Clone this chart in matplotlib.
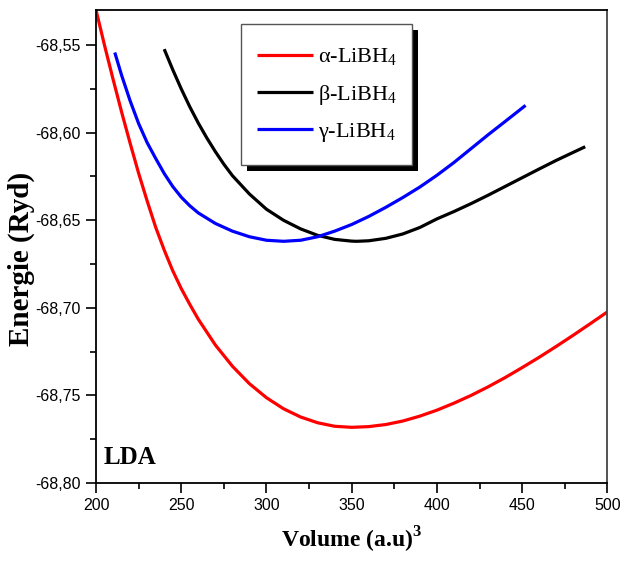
import numpy as np
import matplotlib
matplotlib.use("Agg")
import matplotlib.pyplot as plt
from matplotlib.ticker import MultipleLocator, FuncFormatter
from matplotlib.patches import Rectangle

plt.rcParams['font.family'] = 'Liberation Sans'
plt.rcParams['mathtext.fontset'] = 'custom'
plt.rcParams['mathtext.rm'] = 'Liberation Serif'
plt.rcParams['mathtext.bf'] = 'Liberation Serif:bold'

# energy vs volume, LDA
vol_alpha = [200, 205, 210, 215, 220, 225, 230, 235, 240, 245, 250, 255, 260, 270, 280,
             290, 300, 310, 320, 330, 340, 350, 360, 370, 380, 390, 400, 410, 420, 430,
             440, 450, 460, 470, 480, 490, 500]
e_alpha = [-68.5300, -68.5502, -68.5695, -68.5882, -68.6060, -68.6232, -68.6390, -68.6540,
           -68.6670, -68.6788, -68.6890, -68.6980, -68.7065, -68.7212, -68.7333, -68.7433,
           -68.7513, -68.7576, -68.7623, -68.7656, -68.7676, -68.7682, -68.7678, -68.7666,
           -68.7646, -68.7618, -68.7584, -68.7544, -68.7500, -68.7451, -68.7398, -68.7341,
           -68.7282, -68.7220, -68.7156, -68.7090, -68.7023]

vol_beta = [240, 245, 250, 255, 260, 265, 270, 275, 280, 290, 300, 310, 320, 330, 340,
            350, 353, 360, 370, 380, 390, 400, 410, 420, 430, 440, 450, 460, 470, 480, 487]
e_beta = [-68.5523, -68.5640, -68.5750, -68.5852, -68.5945, -68.6030, -68.6108, -68.6180,
          -68.6245, -68.6350, -68.6437, -68.6500, -68.6549, -68.6586, -68.6609, -68.6619,
          -68.6620, -68.6617, -68.6603, -68.6578, -68.6541, -68.6492, -68.6450, -68.6405,
          -68.6357, -68.6307, -68.6257, -68.6207, -68.6158, -68.6112, -68.6080]

vol_gamma = [211, 215, 220, 225, 230, 235, 240, 245, 250, 255, 260, 270, 280, 290, 300,
             310, 320, 330, 340, 350, 360, 370, 380, 390, 400, 410, 420, 430, 440, 452]
e_gamma = [-68.5542, -68.5672, -68.5818, -68.5948, -68.6057, -68.6147, -68.6233, -68.6307,
           -68.6368, -68.6417, -68.6458, -68.6518, -68.6562, -68.6594, -68.6614, -68.6620,
           -68.6614, -68.6594, -68.6562, -68.6524, -68.6478, -68.6426, -68.6370, -68.6310,
           -68.6243, -68.6170, -68.6091, -68.6012, -68.5936, -68.5844]

labels = ['α-LiBH$_4$', 'β-LiBH$_4$', 'γ-LiBH$_4$']
colors = ['#ff0000', '#000000', '#0000ff']

fig = plt.figure(figsize=(6.36, 5.61), dpi=100)
ax = fig.add_axes([0.151, 0.139, 0.804, 0.843])

for v, e, lab, c in zip([vol_alpha, vol_beta, vol_gamma], [e_alpha, e_beta, e_gamma], labels, colors):
    ax.plot(v, e, color=c, lw=2.3, label=lab, solid_capstyle='butt', solid_joinstyle='round')

ax.set_xlim(200, 500)
ax.set_ylim(-68.80, -68.53)
ax.xaxis.set_major_locator(MultipleLocator(50))
ax.xaxis.set_minor_locator(MultipleLocator(25))
ax.yaxis.set_major_locator(MultipleLocator(0.05))
ax.yaxis.set_minor_locator(MultipleLocator(0.025))
ax.yaxis.set_major_formatter(FuncFormatter(lambda v, p: ('%.2f' % v).replace('.', ',')))
ax.tick_params(which='major', direction='out', length=7, width=1.2, labelsize=11.5, pad=4)
ax.tick_params(which='minor', direction='out', length=4, width=1.2)
ax.tick_params(top=False, right=False, which='both')
for s in ['left', 'bottom', 'top', 'right']:
    ax.spines[s].set_linewidth(1.3)
ax.spines['right'].set_color('#444444')

ax.set_xlabel('Volume (a.u)$^\\mathbf{3}$', family='Liberation Serif', fontweight='bold',
              fontsize=17)
ax.xaxis.set_label_coords(0.5, -0.088)
ax.set_ylabel('Energie (Ryd)', family='Liberation Serif', fontweight='bold', fontsize=21)
ax.yaxis.set_label_coords(-0.12, 0.474)

ax.text(0.014, 0.04, 'LDA', transform=ax.transAxes, family='Liberation Serif',
        fontweight='bold', fontsize=18)

# legend box: frame and black drop shadow drawn by hand, entries placed inside
bx0, by0, bw, bh = 0.2835, 0.6723, 0.3343, 0.2981
ax.add_patch(Rectangle((bx0 + 0.0117, by0 - 0.0127), bw, bh, transform=ax.transAxes,
                       facecolor='black', edgecolor='none', zorder=4.5, clip_on=False))
ax.add_patch(Rectangle((bx0, by0), bw, bh, transform=ax.transAxes, facecolor='white',
                       edgecolor='#555555', lw=1.0, zorder=4.6, clip_on=False))

leg = ax.legend(loc='upper left', bbox_to_anchor=(0.315, 0.923), borderaxespad=0,
                borderpad=0, frameon=False, prop={'family': 'Liberation Serif', 'size': 16},
                handlelength=2.5, handletextpad=0.25, labelspacing=0.65)
leg.set_zorder(5)

fig.savefig('out.png', dpi=100)
